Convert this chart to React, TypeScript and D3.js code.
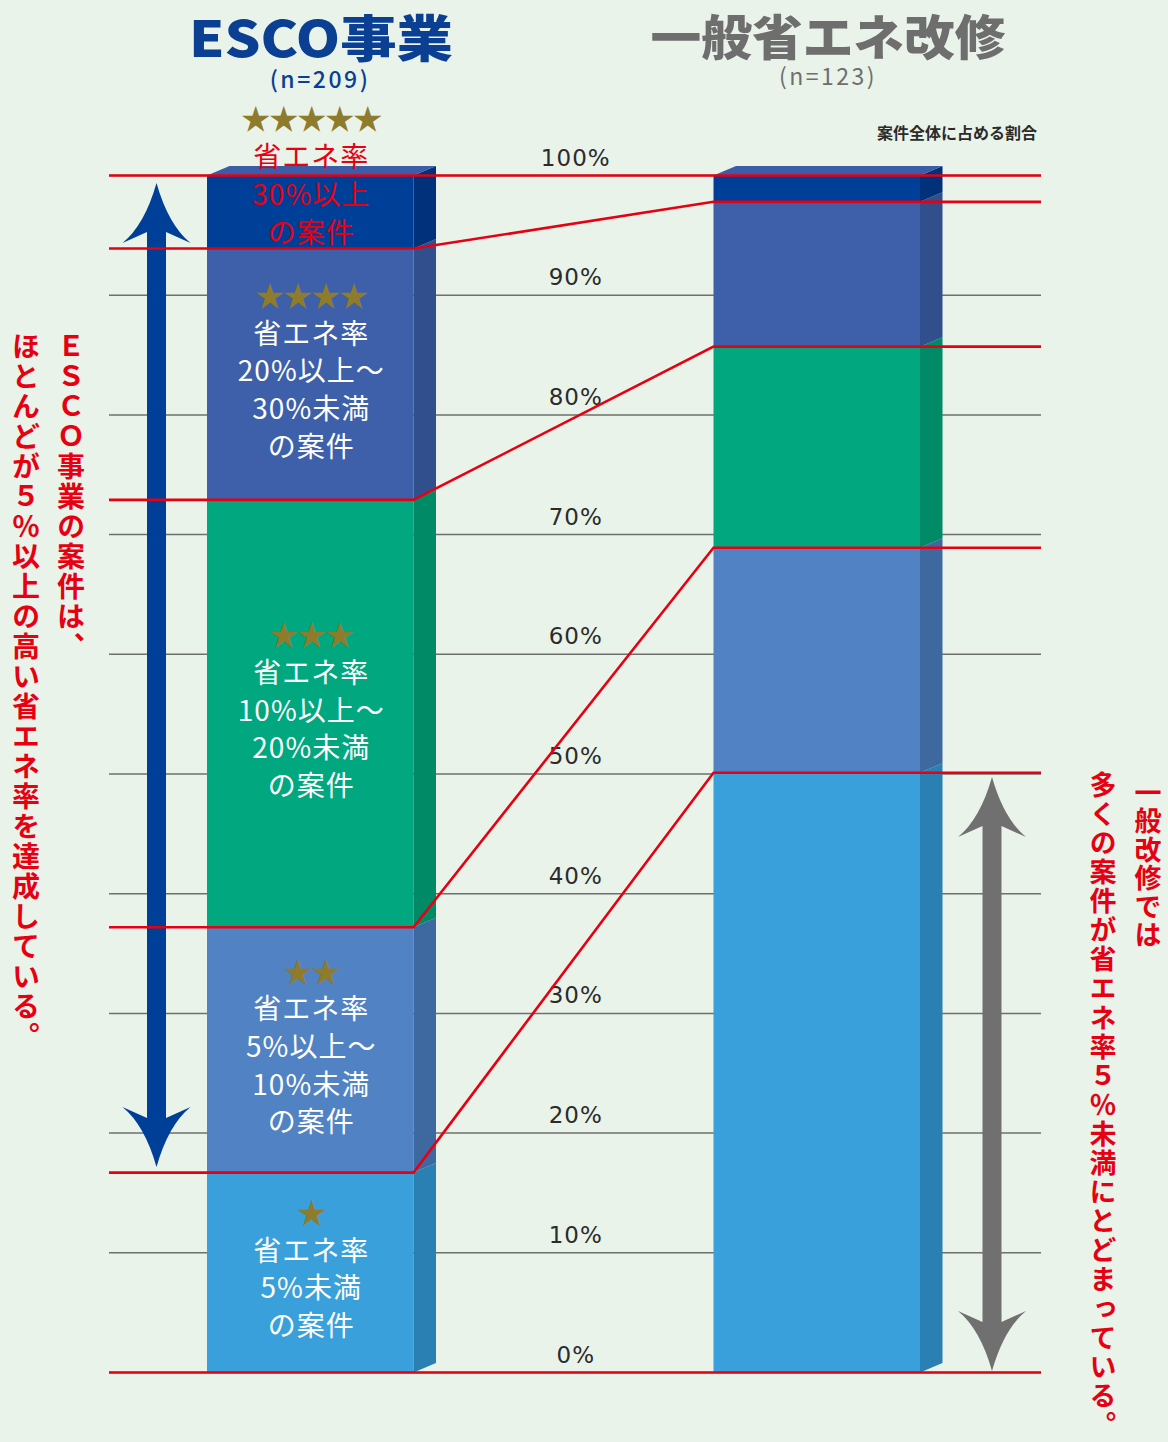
import React from 'react';
import * as d3 from 'd3';

// ---- data ----
const groups = ['ESCO事業', '一般省エネ改修'];
const groupN = ['(n=209)', '(n=123)'];
// segments from bottom (<5%) to top (>=30%)
const segmentStars = ['★', '★★', '★★★', '★★★★', '★★★★★'];
const segmentLabels = [
  ['省エネ率', '5%未満', 'の案件'],
  ['省エネ率', '5%以上～', '10%未満', 'の案件'],
  ['省エネ率', '10%以上～', '20%未満', 'の案件'],
  ['省エネ率', '20%以上～', '30%未満', 'の案件'],
  ['省エネ率', '30%以上', 'の案件'],
];
const escoValues = [16.7, 20.5, 35.7, 21.0, 6.1];
const generalValues = [50.1, 18.8, 16.8, 12.1, 2.2];
const tickValues = [0, 10, 20, 30, 40, 50, 60, 70, 80, 90, 100];
const tickLabels = ['0%', '10%', '20%', '30%', '40%', '50%', '60%', '70%', '80%', '90%', '100%'];
const axisNote = '案件全体に占める割合';
const leftNote = ['ＥＳＣＯ事業の案件は、', 'ほとんどが５％以上の高い省エネ率を達成している。'];
const rightNote = ['一般改修では', '多くの案件が省エネ率５％未満にとどまっている。'];

// ---- style ----
const W = 1168;
const H = 1442;
const BG = '#e9f3ea';
const RED = '#e60012';
const frontColors = ['#3aa0db', '#5182c3', '#00a77f', '#3e60aa', '#003f98'];
const sideColors = ['#2a80b2', '#3e68a0', '#008a66', '#304f8c', '#00317a'];
const topFace = '#3c5ca8';
const STAR = '#8f7b2c';
const FONT = '"Noto Sans CJK JP", "Noto Sans", sans-serif';
const DX = 22.5;
const DY = -9.5;

const y = d3.scaleLinear().domain([0, 100]).range([1372.5, 175.5]);
const x = d3.scaleBand<string>().domain(groups).range([207, 920]).paddingInner(0.5923).paddingOuter(0);
const bw = x.bandwidth();
const lineLeft = 109;
const lineRight = 1041;

function stackOf(vals: number[]) {
  const out: { y0: number; y1: number }[] = [];
  let acc = 0;
  vals.forEach((v) => {
    out.push({ y0: acc, y1: acc + v });
    acc += v;
  });
  return out;
}

function doubleArrow(cx: number, top: number, bottom: number) {
  const hl = 60, hw = 34, sh = 9.5, notch = 11;
  const p = d3.path();
  p.moveTo(cx, top);
  p.quadraticCurveTo(cx + hw * 0.35, top + hl * 0.7, cx + hw, top + hl);
  p.lineTo(cx + sh, top + hl - notch);
  p.lineTo(cx + sh, bottom - hl + notch);
  p.lineTo(cx + hw, bottom - hl);
  p.quadraticCurveTo(cx + hw * 0.35, bottom - hl * 0.7, cx, bottom);
  p.quadraticCurveTo(cx - hw * 0.35, bottom - hl * 0.7, cx - hw, bottom - hl);
  p.lineTo(cx - sh, bottom - hl + notch);
  p.lineTo(cx - sh, top + hl - notch);
  p.lineTo(cx - hw, top + hl);
  p.quadraticCurveTo(cx - hw * 0.35, top + hl * 0.7, cx, top);
  p.closePath();
  return p.toString();
}

function Bar({ name, values }: { name: string; values: number[] }) {
  const x0 = x(name)!;
  const x1 = x0 + bw;
  const st = stackOf(values);
  const topY = y(st[st.length - 1].y1);
  return (
    <g>
      {st.map((s, i) => (
        <g key={i}>
          <rect x={x0} y={y(s.y1)} width={bw} height={y(s.y0) - y(s.y1)} fill={frontColors[i]} />
          <polygon
            points={`${x1},${y(s.y0)} ${x1 + DX},${y(s.y0) + DY} ${x1 + DX},${y(s.y1) + DY} ${x1},${y(s.y1)}`}
            fill={sideColors[i]}
          />
        </g>
      ))}
      <polygon
        points={`${x0},${topY} ${x0 + DX},${topY + DY} ${x1 + DX},${topY + DY} ${x1},${topY}`}
        fill={topFace}
      />
    </g>
  );
}

export default function App() {
  const esco = stackOf(escoValues);
  const gen = stackOf(generalValues);
  const xE = x(groups[0])!;
  const xG = x(groups[1])!;
  const cxE = xE + bw / 2;
  const spacing = 37.7;

  return (
    <svg width={W} height={H} style={{ position: 'absolute', left: 0, top: 0, display: 'block' }} fontFamily={FONT}>
      <rect x={0} y={0} width={W} height={H} fill={BG} />

      {/* gridlines */}
      {tickValues.map((t) => (
        <line key={t} x1={lineLeft} x2={lineRight} y1={y(t)} y2={y(t)} stroke="#6f6f6f" strokeWidth={1.5} />
      ))}
      {/* tick labels */}
      {tickValues.map((t, i) => (
        <text
          key={'l' + t}
          x={(xE + bw + DX + xG) / 2 + 1}
          y={y(t) - 10}
          textAnchor="middle"
          fontSize={23}
          fill="#2b2b2b"
          fontFamily='"DejaVu Sans", sans-serif'
          letterSpacing={1}
        >
          {tickLabels[i]}
        </text>
      ))}

      {/* arrows */}
      <path d={doubleArrow(156.5, 183, 1167)} fill="#003f98" />
      <path d={doubleArrow(992, 777, 1371)} fill="#707070" />

      {/* bars */}
      <Bar name={groups[0]} values={escoValues} />
      <Bar name={groups[1]} values={generalValues} />

      {/* red lines */}
      <g stroke={RED} strokeWidth={2.6} fill="none">
        <line x1={lineLeft} x2={lineRight} y1={y(0)} y2={y(0)} />
        <line x1={lineLeft} x2={lineRight} y1={y(100)} y2={y(100)} />
        {esco.slice(0, -1).map((s, i) => (
          <polyline
            key={i}
            points={`${lineLeft},${y(s.y1)} ${xE + bw},${y(s.y1)} ${xG},${y(gen[i].y1)} ${lineRight},${y(gen[i].y1)}`}
          />
        ))}
      </g>

      {/* segment labels (ESCO) */}
      {esco.map((s, i) => {
        const lines = segmentLabels[i];
        const n = lines.length + 1;
        const isTop = i === esco.length - 1;
        let firstY: number;
        if (isTop) {
          firstY = y(s.y0) - 18 - (n - 1) * spacing;
        } else {
          const cy = (y(s.y0) + y(s.y1)) / 2 - 5;
          firstY = cy - ((n - 1) / 2) * spacing;
        }
        const col = isTop ? RED : '#ffffff';
        return (
          <g key={'lab' + i}>
            <text x={cxE + 1} y={firstY} textAnchor="middle" dominantBaseline="central" fontSize={29} fill={STAR} letterSpacing={-1}>
              {segmentStars[i]}
            </text>
            {lines.map((ln, j) => (
              <text
                key={j}
                x={cxE + 1}
                y={firstY + (j + 1) * spacing}
                textAnchor="middle"
                dominantBaseline="central"
                fontSize={28}
                fill={col}
                fontWeight={400}
                letterSpacing={1}
              >
                {ln}
              </text>
            ))}
          </g>
        );
      })}

      {/* titles */}
      <text x={321} y={35} textAnchor="middle" dominantBaseline="central" fontSize={50} fontWeight={900} fill="#0a3f94" textLength={264} lengthAdjust="spacingAndGlyphs">
        {groups[0]}
      </text>
      <text x={320} y={78} textAnchor="middle" dominantBaseline="central" fontSize={23} fontWeight={500} fill="#0a3f94" letterSpacing={2.5}>
        {groupN[0]}
      </text>
      <text x={828} y={34} textAnchor="middle" dominantBaseline="central" fontSize={48} fontWeight={900} fill="#6e6e6e" textLength={355} lengthAdjust="spacingAndGlyphs">
        {groups[1]}
      </text>
      <text x={828} y={75} textAnchor="middle" dominantBaseline="central" fontSize={23} fontWeight={400} fill="#6e6e6e" letterSpacing={2.5}>
        {groupN[1]}
      </text>
      <text x={1037} y={132} textAnchor="end" dominantBaseline="central" fontSize={16} fontWeight={700} fill="#2b2b2b">
        {axisNote}
      </text>

      {/* vertical notes */}
      <text x={71} y={332} fontSize={28} fontWeight={700} fill={RED} letterSpacing={2} style={{ writingMode: 'vertical-rl' }}>
        {leftNote[0]}
      </text>
      <text x={26} y={332} fontSize={28} fontWeight={700} fill={RED} letterSpacing={2} style={{ writingMode: 'vertical-rl' }}>
        {leftNote[1]}
      </text>
      <text x={1148} y={779} fontSize={27} fontWeight={700} fill={RED} letterSpacing={1.5} style={{ writingMode: 'vertical-rl' }}>
        {rightNote[0]}
      </text>
      <text x={1103} y={771} fontSize={27} fontWeight={700} fill={RED} letterSpacing={2.1} style={{ writingMode: 'vertical-rl' }}>
        {rightNote[1]}
      </text>
    </svg>
  );
}
